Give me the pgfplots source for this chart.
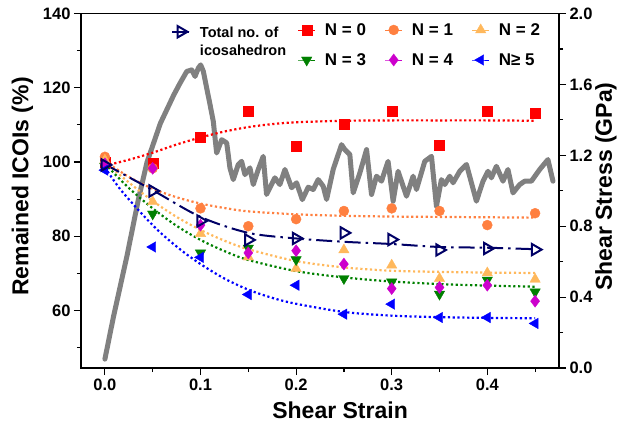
\documentclass[border=0pt]{standalone}
\usepackage{fontspec}
\setmainfont{Liberation Sans}
\usepackage{pgfplots}
\pgfplotsset{compat=1.18}

\definecolor{cRed}{RGB}{255,0,0}
\definecolor{cOrange}{RGB}{255,128,64}
\definecolor{cYellow}{RGB}{255,184,92}
\definecolor{cGreen}{RGB}{0,128,0}
\definecolor{cMag}{RGB}{204,0,204}
\definecolor{cBlue}{RGB}{0,0,255}
\definecolor{cNavy}{RGB}{0,0,102}
\definecolor{cGray}{RGB}{128,128,128}

\pgfplotsset{
  base/.style={
    scale only axis, width=478pt, height=354.5pt,
    xmin=-0.025, xmax=0.475,
    /pgf/number format/assume math mode=true,
    tick label style={font=\bfseries\fontsize{16.5}{18}\selectfont},
    label style={font=\bfseries\fontsize{23}{26}\selectfont},
    axis line style={line width=1.3pt},
    major tick length=7pt, minor tick length=4pt,
    every tick/.style={line width=1.2pt, black},
    tick align=outside,
  },
  fitline/.style={line width=2.2pt, dash pattern=on 2.2pt off 2.6pt, smooth, no markers},
  legend image code/.code={\draw[mark repeat=2,mark phase=2,#1] plot coordinates {(0pt,0pt)(8.5pt,0pt)(17pt,0pt)};},
  lgd/.style={draw=none, fill=none, inner sep=0pt, outer sep=0pt,
    font=\bfseries\fontsize{17}{20}\selectfont,
    nodes={inner sep=2pt},
    /tikz/every odd column/.append style={column sep=7.5pt}},
  key/.style={base, hide axis, ymin=0, ymax=1, legend cell align=left,
    legend style={lgd, at={(#1)}, anchor=west}},
}

\begin{document}
\begin{tikzpicture}
% right axis: shear stress
\begin{axis}[base, name=ax1,
  axis x line=none, axis y line*=right,
  ymin=0, ymax=2,
  ytick={0,0.4,0.8,1.2,1.6,2.0},
  minor ytick={0.2,0.6,1.0,1.4,1.8},
  yticklabel style={/pgf/number format/.cd, fixed, fixed zerofill, precision=1},
  ylabel={Shear Stress (GPa)},
  ylabel style={at={(axis description cs:1.0983,0.512)}, anchor=center},
]
\addplot[cGray, line width=5pt, line join=round, line cap=round] coordinates {
(0.000,0.05)(0.009,0.29)(0.023,0.63)(0.035,0.95)(0.044,1.16)(0.058,1.38)(0.072,1.54)
(0.0786,1.607)(0.0856,1.673)(0.0908,1.682)(0.0943,1.645)(0.0977,1.692)(0.1002,1.710)
(0.103,1.673)(0.1065,1.579)(0.110,1.485)(0.1134,1.391)(0.1152,1.298)(0.1169,1.213)
(0.1222,1.288)(0.1274,1.270)(0.1308,1.129)(0.1343,1.063)(0.1395,1.148)(0.143,1.166)
(0.1465,1.091)(0.1517,1.129)(0.1552,1.035)(0.1604,1.120)(0.1656,1.194)(0.1691,0.979)
(0.1778,1.073)(0.183,1.035)(0.1883,1.12)(0.1953,1.017)(0.2005,1.045)(0.2065,0.95)
(0.2127,1.02)(0.2179,1.007)(0.2231,1.063)(0.2283,1.026)(0.2319,0.951)(0.2388,1.120)
(0.2475,1.260)(0.251,1.232)(0.2562,1.204)(0.2597,0.988)(0.2667,1.101)(0.2737,1.232)
(0.2789,0.979)(0.2841,1.082)(0.2893,1.054)(0.2962,1.166)(0.3015,0.941)(0.3067,1.110)
(0.3119,1.026)(0.3155,0.969)(0.3224,1.082)(0.3259,1.007)(0.3346,1.166)(0.3416,1.194)
(0.3468,0.913)(0.352,1.063)(0.3555,1.035)(0.3607,1.082)(0.3642,1.045)(0.3712,1.110)
(0.3782,1.148)(0.3834,1.045)(0.3886,0.941)(0.3955,1.054)(0.4007,1.110)(0.4043,1.073)
(0.4095,1.138)(0.4164,1.054)(0.4216,1.120)(0.4269,0.988)(0.4339,1.035)(0.4391,1.054)
(0.4461,1.054)(0.4548,1.120)(0.4634,1.176)(0.4687,1.054)
};
\end{axis}

% main axis
\begin{axis}[base, name=ax2,
  ymin=44.5, ymax=140,
  ytick={60,80,100,120,140}, minor ytick={50,70,90,110,130},
  xtick={0,0.1,0.2,0.3,0.4}, minor xtick={0.05,0.15,0.25,0.35,0.45},
  xtick pos=bottom, ytick pos=left,
  xticklabel style={/pgf/number format/.cd, fixed, fixed zerofill, precision=1},
  xlabel={Shear Strain},
  xlabel style={at={(axis description cs:0.542,-0.1185)}, anchor=center},
  ylabel={Remained ICOIs (\%)},
  ylabel style={at={(axis description cs:-0.1224,0.512)}, anchor=center},
]
% fits
\addplot[cRed, fitline] coordinates {(0,99)(0.025,100.6)(0.05,102.5)(0.075,104.7)(0.1,106.6)(0.125,108.2)(0.15,109.4)(0.175,110.2)(0.2,110.7)(0.25,111.1)(0.3,111.2)(0.35,111.2)(0.4,111.2)(0.45,111.1)};
\addplot[cOrange, fitline] coordinates {(0,100.2)(0.025,96)(0.05,92.8)(0.075,90.5)(0.1,88.8)(0.125,87.6)(0.15,86.7)(0.2,85.9)(0.25,85.5)(0.3,85.3)(0.35,85.2)(0.45,85.0)};
\addplot[cYellow, fitline] coordinates {(0,100)(0.025,94.5)(0.05,89.5)(0.075,85.2)(0.1,81.7)(0.125,78.8)(0.15,76.5)(0.2,73.3)(0.25,71.6)(0.3,70.7)(0.35,70.4)(0.4,70.2)(0.45,70.1)};
\addplot[cGreen, fitline] coordinates {(0,99.5)(0.025,93)(0.05,87.5)(0.075,82.8)(0.1,79)(0.125,76)(0.15,73.6)(0.2,70.6)(0.25,68.9)(0.3,67.8)(0.35,67.1)(0.4,66.7)(0.45,66.4)};
\addplot[cBlue, fitline] coordinates {(0,98.5)(0.015,93)(0.03,88.5)(0.045,84.3)(0.06,80.5)(0.08,76.2)(0.1,72.5)(0.125,68.6)(0.15,65.6)(0.175,63.4)(0.2,61.8)(0.25,59.6)(0.3,58.6)(0.35,58.2)(0.4,58)(0.45,57.9)};
\addplot[cNavy, line width=2pt, dash pattern=on 16pt off 5pt on 2.5pt off 5pt, smooth, no markers] coordinates {(0,99.4)(0.05,92.4)(0.1,85.2)(0.15,80.9)(0.2,79.4)(0.25,78.5)(0.3,77.9)(0.35,77.1)(0.4,76.9)(0.45,76.5)};
% markers
\addplot[only marks, mark=square*, mark size=5pt, color=cRed] coordinates {(0,100)(0.05,99.6)(0.1,106.6)(0.15,113.8)(0.2,104.3)(0.25,110.2)(0.3,113.8)(0.35,104.6)(0.4,113.8)(0.45,113.1)};
\addplot[only marks, mark=*, mark size=5pt, color=cOrange] coordinates {(0,101.4)(0.05,98.3)(0.1,87.5)(0.15,82.7)(0.2,84.6)(0.25,86.8)(0.3,87.5)(0.35,86.8)(0.4,83)(0.45,86.2)};
\addplot[only marks, mark=triangle*, mark size=6pt, color=cYellow] coordinates {(0,100.5)(0.05,89.3)(0.1,80.7)(0.15,74.4)(0.2,71.3)(0.25,76.3)(0.3,72.2)(0.35,68.6)(0.4,70.1)(0.45,68.4)};
\addplot[only marks, mark=triangle*, mark size=6pt, color=cGreen, every mark/.append style={rotate=180}] coordinates {(0,98.8)(0.05,86)(0.1,75.5)(0.15,76.8)(0.2,73.7)(0.25,68.6)(0.3,67.7)(0.35,64.4)(0.4,68.2)(0.45,65)};
\addplot[only marks, mark=diamond*, mark size=6pt, color=cMag] coordinates {(0,99.5)(0.05,98.3)(0.1,83)(0.15,75.5)(0.2,76.1)(0.25,72.5)(0.3,65.9)(0.35,66.2)(0.4,66.8)(0.45,62.5)};
\addplot[only marks, mark=triangle*, mark size=6pt, color=cBlue, every mark/.append style={rotate=90}] coordinates {(0,97.8)(0.05,77.1)(0.1,74.3)(0.15,64.3)(0.2,66.8)(0.25,59)(0.3,61.7)(0.35,58.1)(0.4,58.1)(0.45,56.5)};
\addplot[only marks, mark=triangle, mark size=6.5pt, line width=2pt, color=cNavy, every mark/.append style={rotate=-90}] coordinates {(0,99.2)(0.05,92.2)(0.1,84.1)(0.15,79)(0.2,79.4)(0.25,80.9)(0.3,79.1)(0.35,76.3)(0.4,76.7)(0.45,76.4)};
\end{axis}

% legend keys (one hidden axis per entry)
\begin{axis}[base, hide axis, ymin=0, ymax=1, legend cell align=left,
  legend style={lgd, at={(0.1893,0.974)}, anchor=north west,
    font=\bfseries\fontsize{14.5}{18}\selectfont}]
\addlegendimage{cNavy, mark=triangle, mark size=6.5pt, line width=2pt, draw=none, every mark/.append style={rotate=-90, solid, draw=cNavy}}
\addlegendentry{\begin{tabular}[t]{@{}l@{}}Total no. of\\icosahedron\end{tabular}}
\end{axis}
\begin{axis}[key={0.4540,0.9535}]
\addlegendimage{cRed, draw=none, mark=square*, mark size=5pt}
\addlegendentry{N = 0}
\end{axis}
\begin{axis}[key={0.6360,0.9535}]
\addlegendimage{cOrange, draw=none, mark=*, mark size=5pt}
\addlegendentry{N = 1}
\end{axis}
\begin{axis}[key={0.8180,0.9535}]
\addlegendimage{cYellow, draw=none, mark=triangle*, mark size=6pt}
\addlegendentry{N = 2}
\end{axis}
\begin{axis}[key={0.4540,0.8688}]
\addlegendimage{cGreen, draw=none, mark=triangle*, mark size=6pt, every mark/.append style={rotate=180}}
\addlegendentry{N = 3}
\end{axis}
\begin{axis}[key={0.6360,0.8688}]
\addlegendimage{cMag, draw=none, mark=diamond*, mark size=6pt}
\addlegendentry{N = 4}
\end{axis}
\begin{axis}[key={0.8180,0.8688}]
\addlegendimage{cBlue, draw=none, mark=triangle*, mark size=6pt, every mark/.append style={rotate=90}}
\addlegendentry{N≥ 5}
\end{axis}

\path (ax2.south west) ++(-81pt,-57pt) coordinate (bbA);
\path (ax2.north east) ++(63pt,13.5pt) coordinate (bbB);
\path (bbA) rectangle (bbB);
\end{tikzpicture}
\end{document}
